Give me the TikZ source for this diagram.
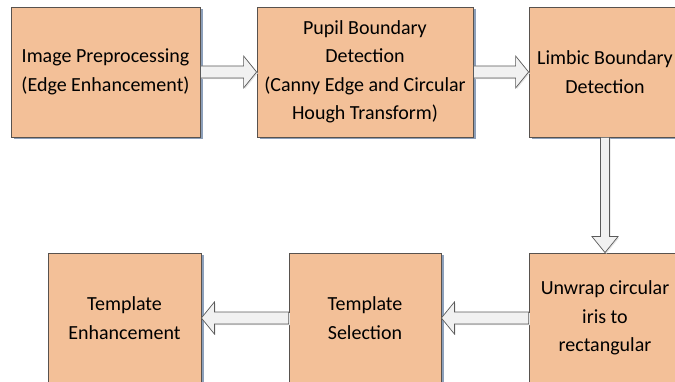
\documentclass[tikz,border=0pt]{standalone}
\usepackage{fontspec}
\setmainfont{Carlito}
\usetikzlibrary{calc,shadows}

\definecolor{boxfill}{RGB}{243,192,152}
\definecolor{boxline}{RGB}{88,82,78}
\definecolor{boxshadow}{RGB}{141,160,186}
\definecolor{arrowfill}{RGB}{241,241,241}
\definecolor{arrowline}{RGB}{90,90,90}

% hollow block arrow, horizontal: from #1 to #2
\newcommand{\hblock}[2]{%
  \draw[blockarrow] let \p1=(#1), \p2=(#2), \n1={sign(\x2-\x1)} in
    (\x1,\y1+6pt) -- (\x2-\n1*13pt,\y1+6pt) -- (\x2-\n1*13pt,\y1+16pt) -- (\x2,\y1)
    -- (\x2-\n1*13pt,\y1-16pt) -- (\x2-\n1*13pt,\y1-6pt) -- (\x1,\y1-6pt) -- cycle;}
% same, downwards
\newcommand{\vblock}[2]{%
  \draw[blockarrow] let \p1=(#1), \p2=(#2) in
    (\x1-4.5pt,\y1) -- (\x1-4.5pt,\y2+16pt) -- (\x1-13pt,\y2+16pt) -- (\x1,\y2)
    -- (\x1+13pt,\y2+16pt) -- (\x1+4.5pt,\y2+16pt) -- (\x1+4.5pt,\y1) -- cycle;}

\begin{document}
\begin{tikzpicture}[x=1pt,y=1pt,
    procbox/.style={draw=boxline, line width=0.8pt, fill=boxfill, minimum height=130pt,
      align=center, inner sep=2pt, font=\fontsize{20}{28.5}\selectfont,
      drop shadow={shadow xshift=2.5pt, shadow yshift=-2.5pt, fill=boxshadow, opacity=1}},
    blockarrow/.style={draw=arrowline, line width=0.7pt, fill=arrowfill,
      drop shadow={shadow xshift=1.2pt, shadow yshift=-1.2pt, fill=black!10, opacity=1}}]
  \useasboundingbox (0,0) rectangle (675,-382);
  \clip (0,0) rectangle (675,-382);
  % top row
  \node[procbox, minimum width=189pt] (prep) at (105.5,-72) {Image Preprocessing\\(Edge Enhancement)};
  \node[procbox, minimum width=216pt] (pupil) at (365,-72) {Pupil Boundary\\Detection\\(Canny Edge and Circular\\Hough Transform)};
  \node[procbox, minimum width=152pt] (limbic) at (605,-72) {Limbic Boundary\\Detection};
  % bottom row
  \node[procbox, minimum width=152pt] (unwrap) at (605,-318) {Unwrap circular\\iris to\\rectangular};
  \node[procbox, minimum width=152pt] (select) at (365,-318) {Template\\Selection};
  \node[procbox, minimum width=153pt] (enhance) at (124.5,-318) {Template\\Enhancement};
  % arrows
  \hblock{prep.east}{pupil.west}
  \hblock{pupil.east}{limbic.west}
  \vblock{limbic.south}{unwrap.north}
  \hblock{unwrap.west}{select.east}
  \hblock{select.west}{enhance.east}
\end{tikzpicture}
\end{document}
